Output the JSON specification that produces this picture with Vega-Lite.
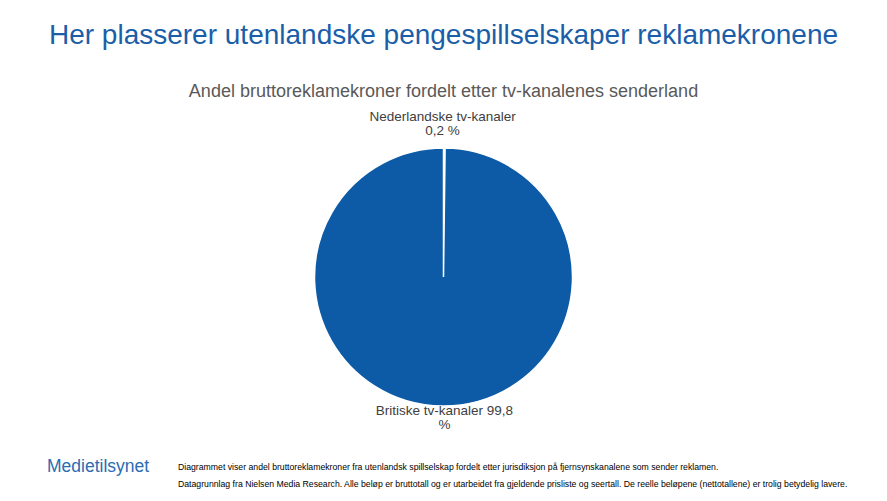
{
  "$schema": "https://vega.github.io/schema/vega-lite/v6.json",
  "width": 887,
  "height": 501,
  "autosize": {"type": "fit", "contains": "padding"},
  "padding": {"left": 0, "right": 0, "top": 22, "bottom": 0},
  "background": "white",
  "title": {
    "text": "Her plasserer utenlandske pengespillselskaper reklamekronene",
    "subtitle": "Andel bruttoreklamekroner fordelt etter tv-kanalenes senderland",
    "anchor": "middle",
    "font": "Liberation Sans",
    "fontSize": 28,
    "fontWeight": "normal",
    "color": "#1b5ea8",
    "subtitleFont": "Liberation Sans",
    "subtitleFontSize": 18,
    "subtitleColor": "#595959",
    "subtitlePadding": 33,
    "offset": 0
  },
  "config": {"view": {"stroke": null}},
  "data": {
    "values": [
      {"kanal": "Nederlandske tv-kanaler", "andel": 0.2, "label": "Nederlandske tv-kanaler\n0,2 %"},
      {"kanal": "Britiske tv-kanaler", "andel": 99.8, "label": "Britiske tv-kanaler 99,8\n%"}
    ]
  },
  "layer": [
    {
      "mark": {"type": "arc", "radius": 129, "color": "#0d5ba6", "stroke": "white", "strokeWidth": 1.5, "y": {"expr": "height - 224"}},
      "encoding": {
        "theta": {"field": "andel", "type": "quantitative", "stack": true}
      }
    },
    {
      "mark": {"type": "text", "radius": 147, "font": "Liberation Sans", "fontSize": 13.5, "color": "#404040", "lineBreak": "\n", "align": "center", "baseline": "middle", "lineHeight": 14, "y": {"expr": "height - 237"}},
      "encoding": {
        "theta": {"field": "andel", "type": "quantitative", "stack": true},
        "text": {"field": "label"}
      }
    },
    {
      "data": {"values": [{"tekst": "Medietilsynet"}]},
      "mark": {"type": "text", "align": "left", "baseline": "middle", "font": "Liberation Sans", "fontSize": 17.5, "color": "#2b6cb3", "x": 47, "y": {"expr": "height - 34"}},
      "encoding": {"text": {"field": "tekst"}}
    },
    {
      "data": {"values": [{"tekst": "Diagrammet viser andel bruttoreklamekroner fra utenlandsk spillselskap fordelt etter jurisdiksjon på fjernsynskanalene som sender reklamen."}]},
      "mark": {"type": "text", "align": "left", "baseline": "middle", "font": "Liberation Sans", "fontSize": 8.7, "color": "#000000", "x": 178, "y": {"expr": "height - 34"}},
      "encoding": {"text": {"field": "tekst"}}
    },
    {
      "data": {"values": [{"tekst": "Datagrunnlag fra Nielsen Media Research. Alle beløp er bruttotall og er utarbeidet fra gjeldende prisliste og seertall. De reelle beløpene (nettotallene) er trolig betydelig lavere."}]},
      "mark": {"type": "text", "align": "left", "baseline": "middle", "font": "Liberation Sans", "fontSize": 8.7, "color": "#000000", "x": 178, "y": {"expr": "height - 17"}},
      "encoding": {"text": {"field": "tekst"}}
    }
  ]
}
